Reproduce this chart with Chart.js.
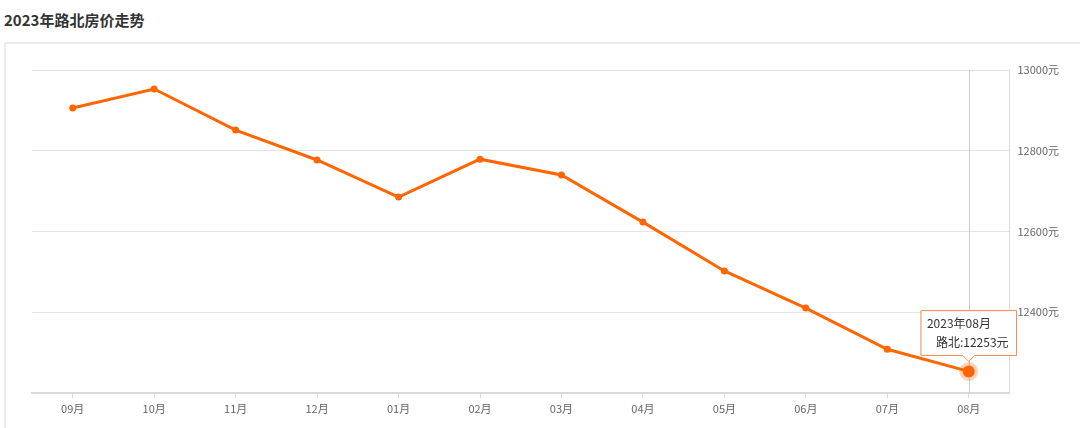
<!DOCTYPE html>
<html>
<head>
<meta charset="utf-8">
<script src="https://cdn.jsdelivr.net/npm/chart.js@4"></script>
<style>
  html,body{margin:0;padding:0;background:#fff;width:1080px;height:428px;overflow:hidden;font-family:"Noto Sans CJK SC","Noto Sans",sans-serif;}
  #title{position:absolute;left:4px;top:9px;font-size:15px;font-weight:bold;color:#333;letter-spacing:0;}
  #box{position:absolute;left:4px;top:42px;width:1090px;height:400px;border:2px solid #ececec;box-sizing:border-box;}
  #wrap{position:absolute;left:0;top:0;width:1080px;height:428px;}
</style>
</head>
<body>
<div id="title">2023年路北房价走势</div>
<div id="box"></div>
<div id="wrap"><canvas id="c" width="1080" height="428"></canvas></div>
<script>
const months = ["09月","10月","11月","12月","01月","02月","03月","04月","05月","06月","07月","08月"];
const fullLabels = ["2022年09月","2022年10月","2022年11月","2022年12月","2023年01月","2023年02月","2023年03月","2023年04月","2023年05月","2023年06月","2023年07月","2023年08月"];
const seriesName = "路北";
const prices = [12906, 12953, 12851, 12777, 12685, 12779, 12740, 12623, 12502, 12410, 12308, 12253];
const yTicks = [12200, 12400, 12600, 12800, 13000];
const activeIndex = 11;

const FONT = '"Noto Sans CJK SC","Noto Sans",sans-serif';
const ORANGE = '#ff6600';

const crosshair = {
  id: 'crosshair',
  beforeDatasetsDraw(chart) {
    const meta = chart.getDatasetMeta(0);
    const pt = meta.data[activeIndex];
    if (!pt) return;
    const {ctx, chartArea} = chart;
    ctx.save();
    ctx.strokeStyle = '#cccccc';
    ctx.lineWidth = 1;
    ctx.beginPath();
    ctx.moveTo(Math.round(pt.x) + 0.5, chartArea.top);
    ctx.lineTo(Math.round(pt.x) + 0.5, chartArea.bottom);
    ctx.stroke();
    ctx.restore();
  }
};

const chart = new Chart(document.getElementById('c'), {
  type: 'line',
  data: {
    labels: months,
    datasets: [{
      label: seriesName,
      data: prices,
      borderColor: ORANGE,
      backgroundColor: ORANGE,
      borderWidth: 3,
      tension: 0,
      pointRadius: 3.5,
      pointBackgroundColor: ORANGE,
      pointBorderColor: ORANGE,
      pointBorderWidth: 0,
      pointHoverRadius: 6,
      pointHoverBackgroundColor: ORANGE,
      pointHoverBorderColor: 'rgba(255,102,0,0.28)',
      pointHoverBorderWidth: 7
    }]
  },
  options: {
    responsive: false,
    animation: false,
    events: [],
    layout: { padding: { left: 32, top: 70, right: 13, bottom: 9 } },
    plugins: {
      legend: { display: false },
      title: { display: false },
      tooltip: {
        enabled: true,
        backgroundColor: 'rgba(255,255,255,0.95)',
        borderColor: '#f08a4b',
        borderWidth: 1,
        titleColor: '#333',
        bodyColor: '#333',
        titleFont: { family: FONT, size: 12, weight: 'normal' },
        bodyFont: { family: FONT, size: 12, weight: 'normal' },
        titleMarginBottom: 4,
        padding: { left: 6, right: 8, top: 6, bottom: 6 },
        cornerRadius: 0,
        caretSize: 6,
        caretPadding: 10,
        displayColors: true,
        boxWidth: 7,
        boxHeight: 7,
        boxPadding: 0,
        multiKeyBackground: 'rgba(0,0,0,0)',
        xAlign: 'center',
        yAlign: 'bottom',
        callbacks: {
          title: (items) => fullLabels[items[0].dataIndex],
          label: (item) => seriesName + ':' + item.raw + '元',
          labelColor: () => ({ borderColor: 'rgba(0,0,0,0)', backgroundColor: 'rgba(0,0,0,0)', borderWidth: 0 })
        }
      }
    },
    scales: {
      x: {
        type: 'category',
        offset: true,
        grid: { display: true, drawOnChartArea: false, drawTicks: true, tickLength: 5, offset: false, color: '#d9d9d9' },
        border: { display: true, color: '#d9d9d9', width: 2 },
        ticks: { color: '#666', font: { family: FONT, size: 11 }, padding: 4, maxRotation: 0, autoSkip: false }
      },
      y: {
        position: 'right',
        min: 12200,
        max: 13000,
        afterBuildTicks(axis) { axis.ticks = yTicks.map(v => ({ value: v })); },
        grid: { color: '#e3e3e3', drawTicks: false, lineWidth: 1 },
        border: { display: true, color: '#dcdcdc', width: 1 },
        ticks: {
          color: '#666',
          font: { family: FONT, size: 11 },
          padding: 8,
          callback: (v) => v === 12200 ? '' : v + '元'
        }
      }
    }
  },
  plugins: [crosshair]
});

const pt = chart.getDatasetMeta(0).data[activeIndex];
chart.setActiveElements([{ datasetIndex: 0, index: activeIndex }]);
chart.tooltip.setActiveElements([{ datasetIndex: 0, index: activeIndex }], { x: pt.x, y: pt.y });
chart.update('none');
</script>
</body>
</html>
